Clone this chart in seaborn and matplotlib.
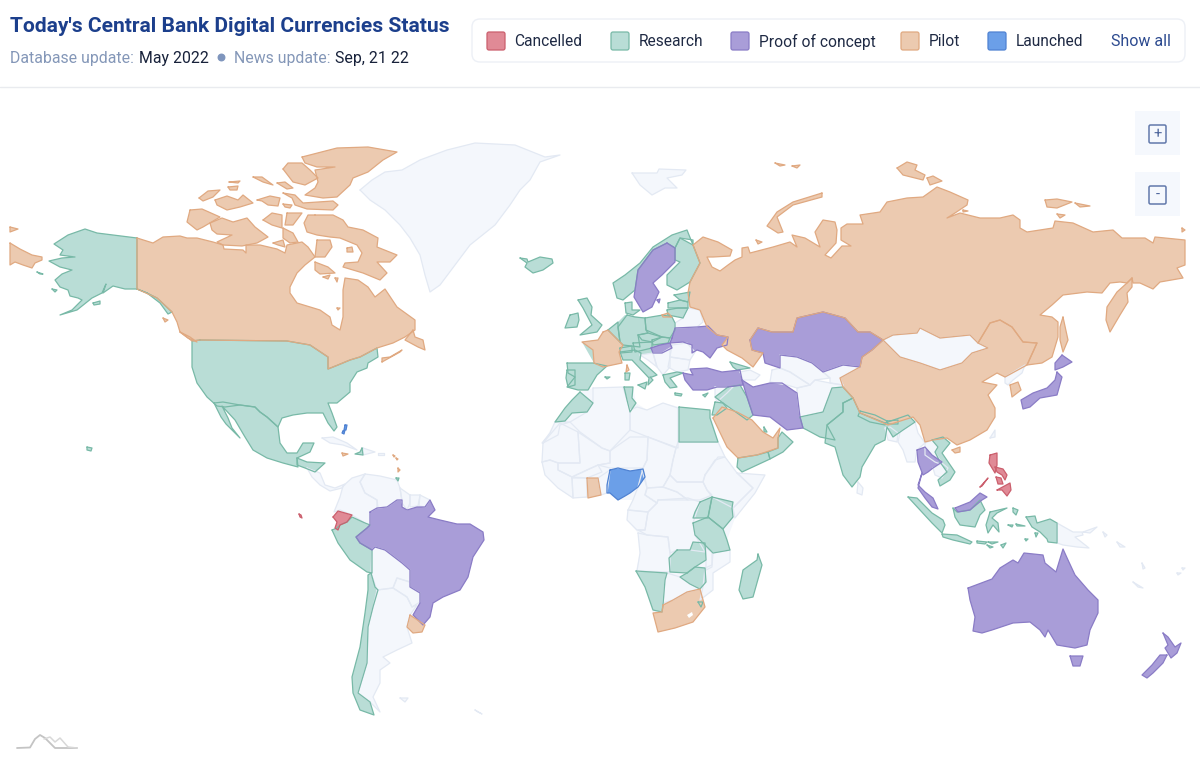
import matplotlib
matplotlib.use("Agg")
import matplotlib.pyplot as plt
from matplotlib.patches import FancyBboxPatch, Rectangle
import pandas as pd
import seaborn as sns

# country outlines, in map units
GREENLAND = [(360,190),(372,180),(385,172),(402,170),(420,160),(447,150),(475,143),(515,145),(545,157),(560,155),(540,162),(530,180),(520,190),(510,205),(495,225),(470,245),(455,265),(440,285),(430,292),(425,275),(420,255),(410,238),(400,225),(385,210),(370,200)]
SVALBARD = [(632,173),(657,173),(659,169),(686,170),(682,175),(667,178),(677,188),(665,188),(652,195),(640,185)]
CUBA = [(322,438),(333,437),(347,443),(357,450),(343,445),(330,443)]
DOMINICAN = [(363,448),(375,452),(363,455)]
PUERTO_RICO = [(378,453),(384,453),(384,455),(378,455)]
PANAMA = [(307,468),(320,473),(325,485),(335,488),(345,484),(342,488),(330,491),(320,485),(312,477)]
COLOMBIA = [(343,486),(352,478),(365,474),(360,482),(365,493),(377,500),(377,508),(370,512),(370,525),(365,523),(352,515),(340,510),(334,512),(340,497)]
VENEZUELA = [(365,474),(380,476),(397,480),(400,488),(402,500),(397,500),(387,507),(378,508),(377,500),(365,493),(360,482)]
GUYANA = [(400,488),(410,495),(410,503),(407,510),(402,503)]
SURINAME = [(410,495),(420,495),(418,506),(410,507)]
GUIANA = [(420,495),(430,500),(425,507),(419,506)]
BOLIVIA = [(372,550),(375,547),(385,550),(402,563),(410,570),(410,582),(397,578),(393,588),(377,590),(371,573)]
PARAGUAY = [(393,588),(397,578),(410,582),(410,587),(420,593),(420,602),(412,607),(407,597)]
ARGENTINA = [(377,590),(393,588),(407,597),(412,607),(417,605),(410,615),(407,627),(412,643),(397,650),(383,657),(390,663),(380,670),(380,683),(373,697),(380,712),(370,702),(358,693),(367,663),(368,627),(373,607)]
FALKLANDS = [(400,698),(408,698),(405,702)]
S_GEORGIA = [(475,710),(482,714),(478,712)]
BELARUS = [(683,318),(688,308),(700,310),(703,322),(697,327),(675,328),(675,323)]
ROMANIA = [(672,345),(687,343),(695,352),(690,360),(670,357)]
BULGARIA = [(670,357),(690,360),(688,370),(677,372),(668,367)]
SERBIA = [(653,353),(662,353),(670,348),(670,367),(663,375),(657,367)]
CROATIA = [(640,355),(653,353),(657,367),(648,360)]
CAUCASUS = [(740,372),(750,370),(760,375),(755,380),(743,380)]
SYRIA = [(715,387),(733,387),(727,393),(717,402),(715,397)]
MONGOLIA = [(883,340),(893,335),(917,333),(920,328),(940,338),(970,335),(978,343),(988,348),(972,353),(962,363),(940,370),(920,363),(900,357)]
TAIWAN = [(990,438),(995,430),(995,437)]
N_KOREA = [(1005,377),(1025,365),(1022,373),(1013,380),(1008,385),(1005,383)]
TURKMENISTAN = [(772,370),(780,368),(790,372),(810,385),(797,388),(787,385),(770,382)]
UZBEKISTAN = [(780,355),(797,357),(812,363),(823,372),(830,378),(815,380),(810,385),(790,372),(780,368)]
KYRGYZ = [(823,372),(843,365),(860,367),(840,378),(843,385),(830,383),(830,378)]
AFGHANISTAN = [(797,393),(797,388),(810,385),(815,380),(830,383),(843,385),(843,387),(832,388),(823,412),(800,417)]
BANGLADESH = [(885,428),(890,427),(898,433),(897,442),(888,440)]
MYANMAR = [(900,432),(915,422),(918,433),(925,443),(917,450),(915,462),(907,462),(903,450),(898,442)]
LAOS = [(925,443),(932,440),(938,447),(935,452),(943,465),(935,462),(925,455)]
CAMBODIA = [(933,468),(942,463),(948,468),(942,478),(935,475)]
SRI_LANKA = [(858,482),(863,488),(862,495),(857,493)]
PNG = [(1057,523),(1073,532),(1082,532),(1083,535),(1075,537),(1089,548),(1077,547),(1063,545),(1057,543)]
NEW_BRITAIN = [(1083,532),(1097,527),(1090,533)]
NEW_IRELAND = [(1103,532),(1107,535),(1105,537)]
SOLOMON = [(1117,542),(1125,547),(1120,547)]
VANUATU = [(1142,563),(1145,568),(1143,569)]
NEW_CALEDONIA = [(1133,582),(1143,588),(1138,587)]
FIJI_A = [(1177,573),(1181,573),(1178,575)]
FIJI_B = [(1182,568),(1185,568),(1183,570)]
W_SAHARA = [(555,422),(570,422),(560,425),(558,435),(543,443),(542,443),(550,433)]
ALGERIA = [(593,388),(623,387),(630,410),(630,430),(610,451),(602,448),(580,432),(570,422),(587,412),(593,403)]
LIBYA = [(630,410),(637,407),(647,410),(663,403),(678,408),(678,448),(648,437),(630,430)]
SUDAN = [(678,442),(718,442),(725,457),(715,460),(705,475),(703,482),(677,482),(670,475),(673,460),(676,448)]
MAURITANIA = [(543,443),(560,423),(578,432),(580,463),(558,463),(550,460),(542,462)]
MALI = [(578,432),(602,448),(610,451),(610,463),(598,465),(587,470),(572,477),(558,470),(558,463),(580,463)]
NIGER = [(610,451),(630,437),(648,437),(647,460),(643,468),(610,468),(598,465),(610,463)]
CHAD = [(648,437),(676,448),(673,460),(670,475),(663,487),(647,488),(642,470),(647,460)]
SENEGAL_GUINEA = [(542,462),(550,460),(558,463),(558,470),(572,477),(573,498),(558,488),(545,475)]
IVORY_COAST = [(572,478),(587,478),(587,497),(573,498)]
BURKINA = [(572,477),(587,470),(598,465),(602,472),(587,478)]
TOGO_BENIN = [(598,478),(610,470),(607,493),(601,495)]
CAMEROON = [(643,468),(647,488),(645,495),(657,503),(648,512),(628,510),(633,500),(638,487)]
CAR = [(647,488),(663,487),(677,492),(688,500),(658,500),(657,503),(645,495)]
S_SUDAN = [(670,475),(677,482),(703,482),(707,490),(712,495),(700,500),(688,500),(677,492),(663,487)]
ETHIOPIA = [(705,475),(718,457),(725,457),(737,473),(753,488),(733,508),(712,497),(707,490),(703,482)]
SOMALIA = [(737,473),(765,475),(755,493),(735,518),(733,508),(753,488)]
GABON_CONGO = [(628,510),(648,512),(645,530),(637,530),(627,520)]
DRC = [(658,500),(688,498),(700,502),(693,523),(695,535),(705,552),(690,550),(677,550),(670,553),(668,537),(647,535),(638,530),(645,530),(648,512),(657,503)]
ANGOLA = [(638,533),(647,535),(668,537),(670,553),(670,572),(637,571),(640,553)]
MOZAMBIQUE = [(713,553),(730,550),(730,562),(713,573),(713,590),(700,600),(703,587),(705,568),(712,565)]
MALAWI = [(706,548),(712,552),(712,567),(706,570),(706,560)]
BOTSWANA = [(667,573),(680,577),(690,584),(700,589),(687,592),(673,600),(663,603),(665,580)]

ALASKA = [(137,238),(113,235),(97,233),(85,229),(68,235),(54,244),(63,250),(60,255),(75,257),(62,258),(49,261),(60,267),(72,270),(62,274),(55,280),(60,287),(68,290),(70,296),(78,298),(82,300),(72,310),(60,315),(77,310),(92,298),(102,293),(106,284),(103,293),(113,286),(125,289),(137,289),(147,293),(157,298),(172,312),(168,314),(160,303),(147,293),(137,289)]
ST_LAWRENCE = [(37,272),(43,274),(40,274)]
NUNIVAK = [(52,289),(57,290),(55,292)]
KODIAK = [(93,303),(100,301),(100,304),(94,305)]
USA = [(200,340),(287,341),(310,345),(328,357),(328,369),(338,365),(350,360),(360,357),(377,348),(378,357),(368,363),(367,368),(357,372),(350,383),(350,392),(337,403),(328,403),(332,413),(337,427),(334,431),(328,423),(323,413),(307,413),(293,415),(282,418),(278,427),(267,417),(260,412),(255,407),(240,405),(225,407),(217,406),(207,397),(197,383),(192,367),(192,341)]
MEXICO = [(214,403),(221,417),(226,424),(240,438),(232,428),(228,418),(222,406),(235,420),(245,437),(253,450),(267,458),(283,463),(298,467),(297,458),(310,452),(314,443),(303,443),(297,453),(287,453),(280,443),(278,427),(267,417),(260,412),(255,407),(240,405),(223,402)]
HONDURAS = [(297,458),(307,462),(325,463),(315,472),(305,468),(297,465)]
HAITI = [(362,448),(363,455),(355,454),(360,452)]
TRINIDAD = [(396,478),(399,478),(398,481)]
HAWAII = [(87,447),(92,448),(91,451),(87,450)]
PERU = [(332,530),(337,528),(340,525),(347,522),(352,517),(365,523),(370,525),(367,528),(356,537),(360,543),(372,550),(372,573),(367,572),(350,560),(338,543)]
CHILE = [(371,573),(375,587),(378,590),(373,607),(368,627),(367,663),(358,693),(370,702),(374,715),(360,710),(353,693),(352,677),(360,647),(365,613),(368,590),(368,575)]
ICELAND = [(520,258),(527,259),(528,262),(540,257),(552,259),(553,263),(543,270),(533,273),(525,267),(527,263)]
NORWAY = [(693,245),(687,230),(672,235),(653,247),(640,263),(625,275),(613,283),(617,298),(623,300),(635,290),(638,270),(653,250),(667,243),(675,248),(680,238),(693,240)]
FINLAND = [(675,248),(680,238),(693,245),(700,263),(690,282),(677,290),(667,285),(667,275),(680,262),(675,260)]
ESTONIA = [(674,295),(690,292),(688,302),(680,300)]
LATVIA = [(668,303),(680,300),(688,302),(688,308),(678,308),(668,308)]
LITHUANIA = [(667,310),(678,308),(688,308),(683,318),(668,315)]
POLAND = [(645,318),(663,315),(672,317),(675,323),(675,330),(670,338),(662,337),(646,330)]
GERMANY = [(627,315),(635,317),(645,318),(646,330),(648,333),(638,335),(640,347),(623,345),(620,342),(618,327)]
DENMARK = [(625,303),(632,302),(632,310),(640,310),(633,315),(626,313)]
BENELUX = [(608,330),(618,322),(618,327),(620,342),(615,337)]
SARDINIA = [(625,373),(630,373),(629,380),(625,380)]
BALEARIC = [(605,377),(610,377),(607,379)]
UK = [(578,300),(587,298),(592,307),(591,315),(602,325),(597,332),(580,335),(592,325),(583,308)]
IRELAND = [(570,315),(578,313),(579,320),(577,327),(565,328),(568,320)]
SPAIN = [(567,363),(593,363),(607,366),(597,375),(588,390),(578,390),(567,387),(575,377),(568,373)]
PORTUGAL = [(567,370),(575,370),(575,385),(568,387),(566,378)]
ITALY = [(620,352),(635,350),(641,353),(640,360),(657,375),(652,377),(650,377),(653,380),(648,385),(649,378),(632,360),(623,360)]
SICILY = [(638,385),(647,382),(645,389)]
SWITZERLAND = [(620,348),(632,346),(632,352),(620,353)]
AUSTRIA = [(633,343),(652,342),(652,348),(635,352)]
CZECHIA = [(638,335),(648,333),(662,337),(652,342),(642,340)]
SLOVAKIA = [(652,340),(662,337),(670,338),(668,343),(653,345)]
GREECE = [(663,375),(677,372),(683,373),(670,378),(677,387),(670,388),(665,382)]
CRETE = [(675,393),(682,394),(681,396),(675,395)]
CYPRUS = [(703,395),(708,393),(705,397)]
GEORGIA = [(730,362),(750,368),(737,370),(733,367)]
IRAQ = [(728,387),(740,385),(747,397),(753,415),(747,420),(723,403),(715,397)]
JORDAN = [(715,402),(723,403),(727,408),(717,415),(712,415)]
PAKISTAN = [(800,417),(823,412),(832,388),(843,387),(853,398),(843,403),(843,412),(827,425),(835,440),(820,437),(807,430),(803,428)]
INDIA = [(843,403),(853,398),(860,413),(885,423),(908,415),(915,422),(903,430),(893,437),(887,427),(885,440),(875,445),(862,467),(860,477),(852,487),(843,475),(835,447),(825,443),(827,425),(843,412)]
NEPAL = [(860,411),(875,415),(887,421),(885,425),(870,422),(858,416)]
BHUTAN = [(887,421),(898,420),(898,424),(888,424)]
VIETNAM = [(932,440),(943,437),(950,443),(942,453),(955,472),(950,480),(940,486),(938,480),(947,472),(940,462),(935,452),(938,447)]
SUMATRA = [(908,497),(917,498),(932,513),(943,520),(945,525),(942,533),(932,523),(920,510)]
JAVA = [(942,534),(957,535),(972,542),(970,544),(953,540),(943,537)]
BALI = [(977,541),(987,542),(985,544),(977,543)]
FLORES = [(988,542),(998,542),(992,544)]
SUMBA = [(987,545),(993,547),(990,548)]
TIMOR = [(1001,545),(1006,543),(1003,548)]
BORNEO = [(953,508),(957,512),(970,510),(980,500),(985,510),(980,515),(975,527),(960,525),(955,517)]
SULAWESI = [(990,512),(1007,508),(997,513),(992,518),(998,523),(999,532),(993,525),(988,533),(986,525)]
HALMAHERA = [(1013,508),(1018,510),(1016,515),(1013,512)]
BURU = [(1008,525),(1013,525),(1012,527)]
SERAM = [(1016,524),(1025,526),(1017,526)]
ARU = [(1035,533),(1038,533),(1036,537)]
TANIMBAR = [(1025,539),(1028,539),(1026,541)]
PAPUA = [(1026,517),(1035,516),(1037,523),(1050,519),(1057,523),(1057,543),(1048,542),(1047,539),(1040,532),(1032,527)]
MOROCCO = [(580,392),(593,403),(587,412),(572,413),(565,421),(555,422),(565,408),(572,400)]
TUNISIA = [(624,387),(633,387),(632,398),(636,403),(630,412),(627,400)]
EGYPT = [(679,407),(710,410),(710,418),(718,442),(679,442)]
UGANDA = [(700,502),(712,497),(708,518),(693,518),(695,512)]
KENYA = [(712,497),(733,502),(732,508),(733,517),(723,529),(708,517)]
TANZANIA = [(693,523),(708,517),(723,529),(727,540),(730,550),(713,553),(705,545),(695,535)]
ZAMBIA = [(677,550),(690,550),(693,542),(705,543),(706,560),(695,567),(687,573),(670,572),(669,558)]
ZIMBABWE = [(687,573),(695,567),(705,568),(706,582),(700,589),(690,584),(680,577)]
NAMIBIA = [(636,571),(667,573),(665,580),(663,605),(662,612),(653,610),(645,587)]
ESWATINI = [(698,602),(703,602),(701,607)]
MADAGASCAR = [(758,554),(762,565),(753,597),(743,599),(739,590),(743,570),(757,560)]
YEMEN = [(738,458),(757,455),(768,452),(770,459),(742,472),(737,467)]
OMAN = [(768,452),(778,448),(778,438),(782,432),(793,442),(783,452),(770,459)]
QATAR = [(764,427),(767,432),(764,432)]

SWEDEN = [(667,243),(675,248),(675,262),(662,275),(653,283),(659,292),(652,307),(643,312),(634,297),(638,270),(653,250)]
GOTLAND = [(657,300),(660,299),(659,303)]
HUNGARY = [(651,348),(660,345),(670,343),(672,348),(662,353),(653,353)]
UKRAINE = [(672,338),(675,328),(697,327),(708,326),(717,335),(728,337),(727,345),(717,348),(710,358),(703,352),(697,350),(692,353),(692,345),(683,342),(670,343)]
TURKEY = [(683,373),(693,375),(690,369),(707,368),(722,372),(740,370),(743,385),(727,387),(717,387),(707,390),(693,390),(685,380)]
IRAN = [(742,380),(753,387),(770,383),(782,383),(797,393),(800,417),(803,428),(787,430),(770,417),(753,415),(747,397)]
KAZAKHSTAN = [(750,340),(758,328),(772,332),(793,332),(797,318),(823,312),(845,318),(858,332),(870,332),(883,340),(872,350),(862,357),(860,367),(843,365),(823,372),(812,363),(797,357),(780,355),(780,368),(765,363),(763,353),(752,350)]
BRAZIL = [(370,512),(377,508),(387,507),(397,500),(402,500),(402,507),(407,510),(417,507),(425,507),(430,500),(435,510),(428,517),(440,520),(457,524),(470,524),(483,532),(484,540),(473,557),(468,577),(460,590),(443,597),(433,603),(430,617),(423,625),(413,615),(420,603),(420,593),(410,587),(410,570),(402,563),(385,550),(375,547),(372,550),(360,543),(356,537),(367,528),(370,525)]
HOKKAIDO = [(1062,355),(1072,362),(1063,367),(1055,370),(1055,363)]
HONSHU = [(1057,372),(1062,377),(1057,395),(1040,398),(1030,407),(1023,409),(1021,400),(1033,393),(1047,388),(1055,380)]
THAILAND = [(917,450),(925,447),(932,455),(942,462),(933,468),(928,472),(923,475),(918,462)]
MALAY = [(922,473),(918,485),(925,492),(933,498),(938,509),(932,507),(925,498),(918,488)]
SARAWAK = [(955,508),(970,502),(980,493),(987,497),(982,500),(970,510),(958,512)]
AUSTRALIA = [(968,588),(992,579),(1000,568),(1013,560),(1018,563),(1024,553),(1043,555),(1045,563),(1056,572),(1063,549),(1068,560),(1075,575),(1088,590),(1098,600),(1098,613),(1090,630),(1087,645),(1075,648),(1057,645),(1048,630),(1045,637),(1040,630),(1030,622),(1013,623),(992,630),(982,633),(973,631),(975,617),(970,600)]
TASMANIA = [(1070,656),(1083,656),(1080,666),(1073,666)]
NZ_NORTH = [(1163,633),(1168,637),(1175,647),(1181,643),(1177,653),(1171,658),(1165,648),(1168,645)]
NZ_SOUTH = [(1167,655),(1163,663),(1153,673),(1147,678),(1142,675),(1152,665),(1160,655)]

CANADA = [(137,238),(153,243),(163,237),(180,236),(187,238),(197,238),(213,242),(223,245),(224,249),(243,250),(246,253),(246,245),(260,245),(277,249),(285,253),(287,245),(302,242),(308,247),(315,257),(305,265),(297,273),(290,287),(290,293),(297,303),(320,310),(330,317),(332,325),(340,330),(343,317),(343,290),(345,278),(358,280),(368,287),(375,297),(385,289),(397,307),(415,320),(415,330),(405,337),(393,343),(377,348),(360,357),(350,360),(338,365),(328,369),(328,357),(310,345),(287,341),(200,340),(192,341),(180,332),(177,322),(172,312),(157,298),(137,289)]
NEWFOUNDLAND = [(413,330),(405,340),(418,347),(425,350),(423,340),(415,337)]
NOVA_SCOTIA = [(382,362),(400,352),(402,350),(390,357),(382,358)]
VANCOUVER = [(180,332),(190,337),(197,342),(188,338)]
HAIDA = [(163,318),(168,320),(165,322)]
BAFFIN = [(315,215),(333,215),(343,220),(348,227),(363,230),(378,238),(377,247),(397,255),(390,262),(377,262),(387,273),(380,280),(363,273),(343,267),(345,263),(358,262),(362,253),(357,245),(340,238),(330,237),(317,235),(307,232),(304,223),(308,215)]
VICTORIA = [(210,223),(222,218),(233,222),(247,218),(255,227),(268,237),(257,243),(242,246),(223,245),(217,242),(232,235),(217,234),(212,230)]
BANKS = [(190,210),(202,209),(220,217),(203,227),(197,230),(187,222)]
SOUTHAMPTON = [(315,262),(328,267),(335,273),(320,274),(315,270)]
PRINCE_WALES = [(263,220),(272,213),(282,215),(282,228),(272,225)]
SOMERSET = [(287,213),(302,213),(293,225),(285,225)]
BOOTHIA = [(283,228),(293,233),(298,242),(290,243),(283,238)]
KING_WILLIAM = [(273,243),(283,240),(285,247),(278,245)]
MELVILLE_PEN = [(317,240),(330,240),(332,247),(325,257),(315,257)]
DEVON = [(283,193),(295,195),(303,203),(333,201),(338,205),(333,210),(307,209),(295,205),(292,198)]
CORNWALLIS = [(283,204),(292,205),(290,208),(285,207)]
BATHURST = [(257,200),(270,196),(280,198),(278,206),(268,205),(262,201)]
MELVILLE = [(215,200),(227,196),(238,200),(243,195),(253,203),(240,207),(227,210),(217,205)]
PRINCE_PATRICK = [(199,198),(208,191),(220,190),(213,197),(203,201)]
ELLESMERE = [(302,157),(337,148),(368,147),(397,152),(383,160),(368,172),(353,178),(350,185),(337,197),(323,198),(305,195),(315,188),(318,182),(315,170),(335,167),(317,167),(305,163)]
AXEL_HEIBERG = [(283,169),(288,163),(302,163),(310,170),(318,178),(305,185),(293,182)]
AMUND = [(253,177),(262,177),(273,185),(263,182)]
MACKENZIE = [(229,182),(240,181),(238,183)]
BORDEN = [(228,187),(238,186),(237,190),(230,190)]
CORNWALL = [(277,183),(285,182),(293,188),(287,189)]
COATS = [(323,277),(330,275),(328,279)]
MANSEL = [(335,278),(338,278),(337,282)]
AKIMISKI = [(337,308),(340,308),(338,310)]
PRINCE_CHARLES = [(347,248),(352,247),(353,252),(347,252)]
CHUKOTKA_W = [(10,243),(20,249),(32,255),(42,257),(42,260),(35,263),(32,268),(23,265),(15,262),(10,265)]
WRANGEL_W = [(10,227),(18,229),(10,232)]
RUSSIA = [(693,245),(703,237),(718,242),(732,250),(730,256),(713,257),(707,257),(712,267),(720,271),(728,265),(735,260),(742,257),(742,248),(748,247),(750,253),(773,247),(790,242),(797,247),(792,235),(805,238),(820,247),(815,232),(823,220),(835,222),(837,230),(836,243),(825,255),(831,258),(842,246),(851,246),(841,240),(841,228),(847,224),(863,224),(860,215),(880,212),(887,202),(907,198),(923,197),(937,187),(950,192),(968,200),(967,205),(955,213),(947,218),(960,213),(980,218),(1000,218),(1013,215),(1020,220),(1020,228),(1027,232),(1053,228),(1055,221),(1073,223),(1093,232),(1113,230),(1122,238),(1145,238),(1153,243),(1155,237),(1185,240),(1185,265),(1177,268),(1183,278),(1160,282),(1153,289),(1140,283),(1133,283),(1132,278),(1127,283),(1120,282),(1110,283),(1102,293),(1087,292),(1063,295),(1052,305),(1040,315),(1052,317),(1058,322),(1058,337),(1052,357),(1042,363),(1027,365),(1037,343),(1023,342),(1012,327),(1000,320),(990,323),(978,343),(970,335),(940,338),(920,328),(917,333),(893,335),(883,340),(870,332),(858,332),(845,318),(823,312),(797,318),(793,332),(772,332),(758,328),(750,340),(752,350),(763,353),(753,367),(742,358),(727,350),(722,345),(728,337),(717,335),(707,327),(700,310),(690,307),(688,293),(690,282),(700,263)]
SAKHALIN = [(1063,317),(1068,340),(1063,352),(1060,340),(1060,327)]
KAMCHATKA = [(1132,278),(1132,287),(1127,293),(1128,302),(1120,315),(1110,332),(1106,320),(1107,307),(1117,292),(1127,283)]
NOVAYA_ZEMLYA = [(822,193),(793,202),(777,212),(767,226),(778,233),(783,232),(777,217),(793,205),(822,197)]
VAYGACH = [(756,240),(762,242),(758,244)]
FRANZ_A = [(775,163),(785,165),(780,166)]
FRANZ_B = [(792,166),(800,165),(797,168)]
SEVERNAYA_A = [(897,168),(907,162),(917,165),(915,170),(925,175),(923,180),(903,175)]
SEVERNAYA_B = [(927,178),(933,176),(942,181),(930,185)]
NEW_SIBERIAN_A = [(1045,200),(1057,199),(1072,202),(1057,208),(1047,207)]
NEW_SIBERIAN_B = [(1075,203),(1090,206),(1080,207)]
NEW_SIBERIAN_C = [(1057,214),(1065,215),(1060,218)]
WRANGEL_E = [(1182,228),(1185,230),(1182,232)]
BEGICHEV = [(963,210),(968,211),(963,212)]
FRANCE = [(603,332),(608,330),(615,337),(620,342),(623,345),(619,352),(622,363),(603,367),(594,363),(593,350),(582,342),(598,340)]
CORSICA = [(627,365),(629,370),(626,372)]
KALININGRAD = [(662,315),(668,313),(672,317),(663,317)]
CHINA = [(883,340),(900,357),(920,363),(940,370),(962,363),(972,353),(988,348),(978,343),(990,323),(1000,320),(1012,327),(1023,342),(1037,343),(1027,365),(1005,377),(997,373),(982,382),(997,385),(988,395),(995,408),(995,417),(987,430),(970,440),(957,445),(947,438),(933,440),(925,442),(920,425),(913,417),(888,425),(860,413),(853,398),(843,387),(840,378),(860,367),(862,357),(872,350)]
HAINAN = [(952,450),(960,447),(960,452),(955,453)]
S_KOREA = [(1010,385),(1018,382),(1021,390),(1012,397)]
JAMAICA = [(342,453),(348,454),(343,456)]
ANTIGUA = [(393,455),(395,456),(394,457)]
DOMINICA = [(396,458),(398,459),(397,460)]
GRENADA = [(398,468),(400,470),(398,472)]
URUGUAY = [(410,615),(425,625),(422,632),(413,633),(407,627)]
GHANA = [(587,478),(598,478),(601,495),(588,498)]
SOUTH_AFRICA = [(663,605),(673,600),(687,592),(700,589),(705,607),(693,622),(675,628),(658,632),(653,613),(662,612)]
SAUDI = [(713,418),(722,407),(737,412),(752,420),(763,432),(773,438),(780,428),(778,438),(778,448),(757,455),(738,458),(727,447)]

ECUADOR = [(333,517),(338,511),(352,515),(347,522),(340,525),(338,530),(335,528),(337,522)]
GALAPAGOS = [(299,514),(301,515),(302,518),(300,517)]
LUZON = [(990,455),(997,453),(997,465),(995,473),(992,468),(989,463)]
VISAYAS_A = [(995,467),(1003,469),(1007,475),(1005,480),(1002,475),(997,472)]
VISAYAS_B = [(996,477),(1001,478),(1003,484),(998,484)]
MINDANAO = [(997,490),(1010,483),(1011,490),(1007,496),(1002,490)]
PALAWAN = [(980,487),(988,478),(982,486)]

NIGERIA = [(610,470),(618,468),(630,471),(643,469),(645,477),(638,487),(630,493),(625,496),(618,500),(610,493),(607,493),(607,485)]
BAHAMAS_A = [(345,425),(347,425),(346,430),(344,430)]
BAHAMAS_B = [(343,431),(345,430),(344,434),(342,433)]

LESOTHO = [(687,615),(692,612),(693,615),(689,618)]

# land masses under the countries, fill only, so small border gaps stay coloured
AFRICA_BASE = [(565,408),(572,400),(580,392),(593,388),(623,387),(633,387),(636,403),(647,410),(663,403),(679,407),(710,410),(718,442),(725,457),(737,473),(765,475),(755,493),(735,518),(727,540),(730,562),(713,573),(713,590),(700,600),(693,622),(675,628),(658,632),(653,613),(645,587),(636,571),(640,553),(638,533),(627,520),(628,510),(633,500),(618,500),(607,493),(588,498),(573,498),(558,488),(545,475),(542,462),(543,443),(555,422)]
EUROPE_BASE = [(567,363),(594,363),(582,342),(598,340),(608,330),(618,322),(625,315),(645,318),(675,323),(675,330),(670,343),(653,353),(640,355),(632,360),(620,353),(622,363),(607,366),(597,375),(588,390),(567,387)]

NO_DATA_SHAPES = [GREENLAND, SVALBARD, CUBA, DOMINICAN, PUERTO_RICO, PANAMA, COLOMBIA, VENEZUELA, GUYANA, SURINAME, GUIANA, BOLIVIA, PARAGUAY, ARGENTINA, FALKLANDS, S_GEORGIA, BELARUS, ROMANIA, BULGARIA, SERBIA, CROATIA, CAUCASUS, SYRIA, MONGOLIA, TAIWAN, N_KOREA, TURKMENISTAN, UZBEKISTAN, KYRGYZ, AFGHANISTAN, BANGLADESH, MYANMAR, LAOS, CAMBODIA, SRI_LANKA, PNG, NEW_BRITAIN, NEW_IRELAND, SOLOMON, VANUATU, NEW_CALEDONIA, FIJI_A, FIJI_B, W_SAHARA, ALGERIA, LIBYA, SUDAN, MAURITANIA, MALI, NIGER, CHAD, SENEGAL_GUINEA, IVORY_COAST, BURKINA, TOGO_BENIN, CAMEROON, CAR, S_SUDAN, ETHIOPIA, SOMALIA, GABON_CONGO, DRC, ANGOLA, MOZAMBIQUE, MALAWI, BOTSWANA]
RESEARCH_SHAPES = [ALASKA, ST_LAWRENCE, NUNIVAK, KODIAK, USA, MEXICO, HONDURAS, HAITI, TRINIDAD, HAWAII, PERU, CHILE, ICELAND, NORWAY, FINLAND, ESTONIA, LATVIA, LITHUANIA, POLAND, GERMANY, DENMARK, BENELUX, SARDINIA, BALEARIC, UK, IRELAND, SPAIN, PORTUGAL, ITALY, SICILY, SWITZERLAND, AUSTRIA, CZECHIA, SLOVAKIA, GREECE, CRETE, CYPRUS, GEORGIA, IRAQ, JORDAN, PAKISTAN, INDIA, NEPAL, BHUTAN, VIETNAM, SUMATRA, JAVA, BALI, FLORES, SUMBA, TIMOR, BORNEO, SULAWESI, HALMAHERA, BURU, SERAM, ARU, TANIMBAR, PAPUA, MOROCCO, TUNISIA, EGYPT, UGANDA, KENYA, TANZANIA, ZAMBIA, ZIMBABWE, NAMIBIA, ESWATINI, MADAGASCAR, YEMEN, OMAN, QATAR]
PROOF_SHAPES = [SWEDEN, GOTLAND, HUNGARY, UKRAINE, TURKEY, IRAN, KAZAKHSTAN, BRAZIL, HOKKAIDO, HONSHU, THAILAND, MALAY, SARAWAK, AUSTRALIA, TASMANIA, NZ_NORTH, NZ_SOUTH]
PILOT_SHAPES = [CANADA, NEWFOUNDLAND, NOVA_SCOTIA, VANCOUVER, HAIDA, BAFFIN, VICTORIA, BANKS, SOUTHAMPTON, PRINCE_WALES, SOMERSET, BOOTHIA, KING_WILLIAM, MELVILLE_PEN, DEVON, CORNWALLIS, BATHURST, MELVILLE, PRINCE_PATRICK, ELLESMERE, AXEL_HEIBERG, AMUND, MACKENZIE, BORDEN, CORNWALL, COATS, MANSEL, AKIMISKI, PRINCE_CHARLES, CHUKOTKA_W, WRANGEL_W, RUSSIA, SAKHALIN, KAMCHATKA, NOVAYA_ZEMLYA, VAYGACH, FRANZ_A, FRANZ_B, SEVERNAYA_A, SEVERNAYA_B, NEW_SIBERIAN_A, NEW_SIBERIAN_B, NEW_SIBERIAN_C, WRANGEL_E, BEGICHEV, FRANCE, CORSICA, KALININGRAD, CHINA, HAINAN, S_KOREA, JAMAICA, ANTIGUA, DOMINICA, GRENADA, URUGUAY, GHANA, SOUTH_AFRICA, SAUDI]
CANCELLED_SHAPES = [ECUADOR, GALAPAGOS, LUZON, VISAYAS_A, VISAYAS_B, MINDANAO, PALAWAN]
LAUNCHED_SHAPES = [NIGERIA, BAHAMAS_A, BAHAMAS_B]

STATUS_ORDER = ["No data", "Research", "Proof of concept", "Pilot", "Cancelled", "Launched"]
STATUS_SHAPES = [NO_DATA_SHAPES, RESEARCH_SHAPES, PROOF_SHAPES, PILOT_SHAPES, CANCELLED_SHAPES, LAUNCHED_SHAPES]

FILL = {
    "No data": "#f4f7fc",
    "Research": "#b9ddd6",
    "Proof of concept": "#a99dd8",
    "Pilot": "#eccab0",
    "Cancelled": "#e08a96",
    "Launched": "#6b9fe8",
}
EDGE = {
    "No data": "#e3e9f3",
    "Research": "#78b9a7",
    "Proof of concept": "#8a7cc6",
    "Pilot": "#e0a981",
    "Cancelled": "#cb5f6d",
    "Launched": "#4f82d2",
}

LEGEND_LABELS = ["Cancelled", "Research", "Proof of concept", "Pilot", "Launched"]
LEGEND_SWATCH_X = [487, 611, 731, 901, 988]
LEGEND_TEXT_X = [514, 639, 759, 929, 1016]

LOGO_X = [17, 30, 35, 40, 45, 55, 62, 77]
LOGO_Y = [748, 747.5, 739, 735, 738, 748, 748, 748]
LOGO2_X = [44, 50, 55, 60, 68, 77]
LOGO2_Y = [739, 737, 742, 738, 747, 748]

TITLE = "Today's Central Bank Digital Currencies Status"
BLUE = "#1c3f8c"
GREY_LABEL = "#8497b8"
DARK = "#17213a"

sns.set_theme(style="white")
plt.rcParams["font.family"] = ["Roboto", "DejaVu Sans"]


def build_frame():
    rows = []
    shape_id = 0
    for status, shapes in zip(STATUS_ORDER, STATUS_SHAPES):
        for shape in shapes:
            closed = shape + shape[:1]
            for order, (x, y) in enumerate(closed):
                rows.append({"x": x, "y": y, "status": status, "shape": shape_id, "order": order})
            shape_id += 1
    return pd.DataFrame(rows)


def draw_map(ax, df):
    ax.fill(*zip(*AFRICA_BASE), color=FILL["No data"], lw=0, zorder=0.5)
    ax.fill(*zip(*EUROPE_BASE), color=FILL["Research"], lw=0, zorder=0.5)
    for status in STATUS_ORDER:
        part = df[df["status"] == status]
        for _, group in part.groupby("shape"):
            ax.fill(group["x"], group["y"], color=FILL[status], lw=0, zorder=1)
    sns.lineplot(
        data=df,
        x="x",
        y="y",
        hue="status",
        hue_order=STATUS_ORDER,
        palette=EDGE,
        units="shape",
        estimator=None,
        sort=False,
        linewidth=0.9,
        legend=False,
        solid_joinstyle="round",
        ax=ax,
        zorder=2,
    )
    # Lesotho is a hole in South Africa
    ax.fill(*zip(*LESOTHO), color="white", lw=0, zorder=3)


def draw_header(ax):
    ax.text(10, 32.5, TITLE, fontsize=15.15, fontweight="bold", color=BLUE, va="baseline")
    ax.text(10, 62.5, "Database update:", fontsize=11.4, color=GREY_LABEL)
    ax.text(139, 62.5, "May 2022", fontsize=11.4, color=DARK)
    ax.scatter([221], [57], s=22, color="#7f95bd", zorder=3)
    ax.text(234, 62.5, "News update:", fontsize=11.4, color=GREY_LABEL)
    ax.text(335, 62.5, "Sep, 21 22", fontsize=11.4, color=DARK)

    ax.add_patch(FancyBboxPatch((472, 19), 713, 43, boxstyle="round,pad=0,rounding_size=8",
                                fc="white", ec="#edf0f6", lw=1))
    for label, sx, tx in zip(LEGEND_LABELS, LEGEND_SWATCH_X, LEGEND_TEXT_X):
        ax.add_patch(FancyBboxPatch((sx, 32), 18, 18, boxstyle="round,pad=0,rounding_size=2",
                                    fc=FILL[label], ec=EDGE[label], lw=0.9))
        ax.text(tx, 46.5, label, fontsize=11.2, color="#1f2a44")
    ax.text(1111, 46.5, "Show all", fontsize=11.5, color="#2c4a8f")
    ax.plot([0, 1200], [87, 87], color="#e9ebef", lw=1)


def draw_zoom_buttons(ax):
    for top, sign in [(111, "+"), (172, "-")]:
        ax.add_patch(Rectangle((1135, top), 45, 44, fc="#f5f8fd", ec="none"))
        ax.add_patch(FancyBboxPatch((1149, top + 14), 17, 18, boxstyle="round,pad=0,rounding_size=1.5",
                                    fc="none", ec="#6279ab", lw=1.1))
        ax.text(1157.5, top + 23, sign, fontsize=10.5, color="#4d659c", ha="center", va="center")


def draw_logo(ax):
    sns.lineplot(x=LOGO_X, y=LOGO_Y, sort=False, estimator=None, color="#c4c4c4", lw=1.3, ax=ax)
    sns.lineplot(x=LOGO2_X, y=LOGO2_Y, sort=False, estimator=None, color="#d8d8d8", lw=1.1, ax=ax)


def main():
    df = build_frame()
    fig = plt.figure(figsize=(12, 7.66), dpi=100)
    ax = fig.add_axes([0, 0, 1, 1])
    draw_map(ax, df)
    draw_header(ax)
    draw_zoom_buttons(ax)
    draw_logo(ax)
    ax.set_xlim(0, 1200)
    ax.set_ylim(766, 0)
    ax.axis("off")
    fig.savefig("out.png", dpi=100, facecolor="white")
    plt.close(fig)


if __name__ == "__main__":
    main()
